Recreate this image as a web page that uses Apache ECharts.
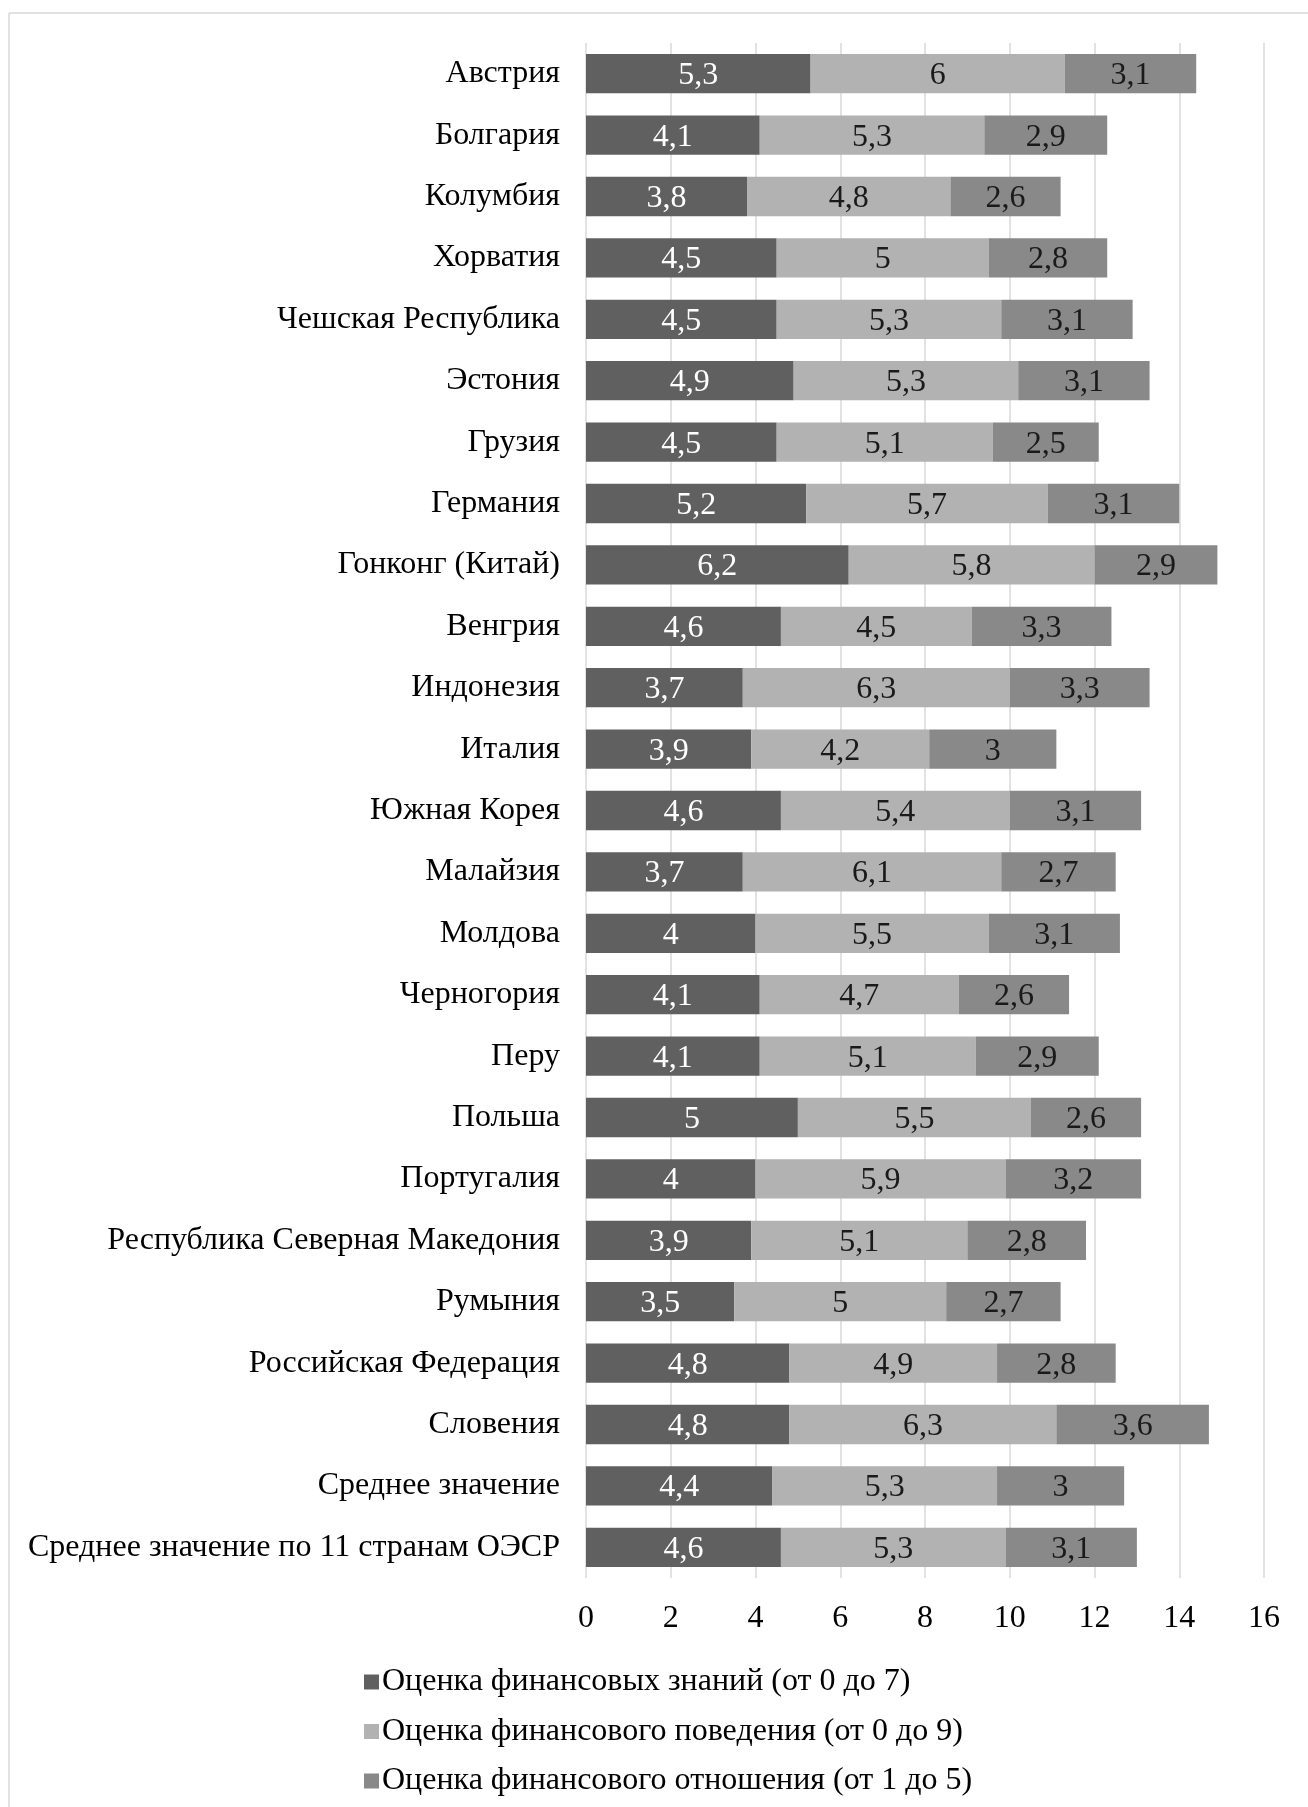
<!DOCTYPE html>
<html>
<head>
<meta charset="utf-8">
<script src="https://cdn.jsdelivr.net/npm/echarts@6/dist/echarts.min.js"></script>
<style>
  html, body { margin: 0; padding: 0; background: #ffffff; }
  #chart { width: 1308px; height: 1807px; }
</style>
</head>
<body>
<div id="chart"></div>
<script>
// Категории (сверху вниз)
const countries = [
  'Австрия', 'Болгария', 'Колумбия', 'Хорватия', 'Чешская Республика',
  'Эстония', 'Грузия', 'Германия', 'Гонконг (Китай)', 'Венгрия',
  'Индонезия', 'Италия', 'Южная Корея', 'Малайзия', 'Молдова',
  'Черногория', 'Перу', 'Польша', 'Португалия',
  'Республика Северная Македония', 'Румыния', 'Российская Федерация',
  'Словения', 'Среднее значение', 'Среднее значение по 11 странам ОЭСР'
];

// Оценка финансовых знаний (от 0 до 7)
const knowledge = [5.3, 4.1, 3.8, 4.5, 4.5, 4.9, 4.5, 5.2, 6.2, 4.6, 3.7, 3.9, 4.6, 3.7, 4, 4.1, 4.1, 5, 4, 3.9, 3.5, 4.8, 4.8, 4.4, 4.6];
// Оценка финансового поведения (от 0 до 9)
const behaviour = [6, 5.3, 4.8, 5, 5.3, 5.3, 5.1, 5.7, 5.8, 4.5, 6.3, 4.2, 5.4, 6.1, 5.5, 4.7, 5.1, 5.5, 5.9, 5.1, 5, 4.9, 6.3, 5.3, 5.3];
// Оценка финансового отношения (от 1 до 5)
const attitude = [3.1, 2.9, 2.6, 2.8, 3.1, 3.1, 2.5, 3.1, 2.9, 3.3, 3.3, 3, 3.1, 2.7, 3.1, 2.6, 2.9, 2.6, 3.2, 2.8, 2.7, 2.8, 3.6, 3, 3.1];

const seriesNames = [
  'Оценка финансовых знаний (от 0 до 7)',
  'Оценка финансового поведения (от 0 до 9)',
  'Оценка финансового отношения (от 1 до 5)'
];

const FONT = '"Liberation Serif", "Times New Roman", serif';
const FS = 32;
const colors = ['#606060', '#b2b2b2', '#898989'];
const labelColors = ['#ffffff', '#1a1a1a', '#1a1a1a'];

// десятичная запятая в подписях
const fmt = v => String(v).replace('.', ',');

const chart = echarts.init(document.getElementById('chart'), null, { renderer: 'canvas' });

const makeSeries = (name, data, i) => ({
  name: name,
  type: 'bar',
  stack: 'total',
  data: data,
  barCategoryGap: '36%',
  itemStyle: { color: colors[i] },
  label: {
    show: true,
    position: 'inside',
    offset: [0, 2],
    color: labelColors[i],
    fontFamily: FONT,
    fontSize: FS,
    formatter: p => fmt(p.value)
  },
  emphasis: { disabled: true }
});

chart.setOption({
  animation: false,
  backgroundColor: '#ffffff',
  color: colors,
  grid: { left: 586, right: 44, top: 43, bottom: 229, containLabel: false },
  xAxis: {
    type: 'value',
    min: 0,
    max: 16,
    interval: 2,
    axisLine: { show: false },
    axisTick: { show: false },
    axisLabel: { color: '#000000', fontFamily: FONT, fontSize: FS, margin: 25 },
    splitLine: { show: true, lineStyle: { color: '#d9d9d9', width: 1.5 } }
  },
  yAxis: {
    type: 'category',
    inverse: true,
    data: countries,
    axisLine: { show: false },
    axisTick: { show: false },
    axisLabel: { color: '#000000', fontFamily: FONT, fontSize: FS, margin: 26, padding: [4, 0, 0, 0] }
  },
  legend: {
    orient: 'vertical',
    left: 359,
    top: 1661,
    itemWidth: 15,
    itemHeight: 15,
    itemGap: 17.5,
    icon: 'rect',
    textStyle: { color: '#000000', fontFamily: FONT, fontSize: FS, padding: [0, 0, 0, -2] },
    data: seriesNames
  },
  graphic: [
    { type: 'line', shape: { x1: 9, y1: 13, x2: 1308, y2: 13 }, style: { stroke: '#d9d9d9', lineWidth: 1.5 }, silent: true },
    { type: 'line', shape: { x1: 9, y1: 13, x2: 9, y2: 1807 }, style: { stroke: '#d9d9d9', lineWidth: 1.5 }, silent: true }
  ],
  series: [
    makeSeries(seriesNames[0], knowledge, 0),
    makeSeries(seriesNames[1], behaviour, 1),
    makeSeries(seriesNames[2], attitude, 2)
  ]
});
</script>
</body>
</html>
